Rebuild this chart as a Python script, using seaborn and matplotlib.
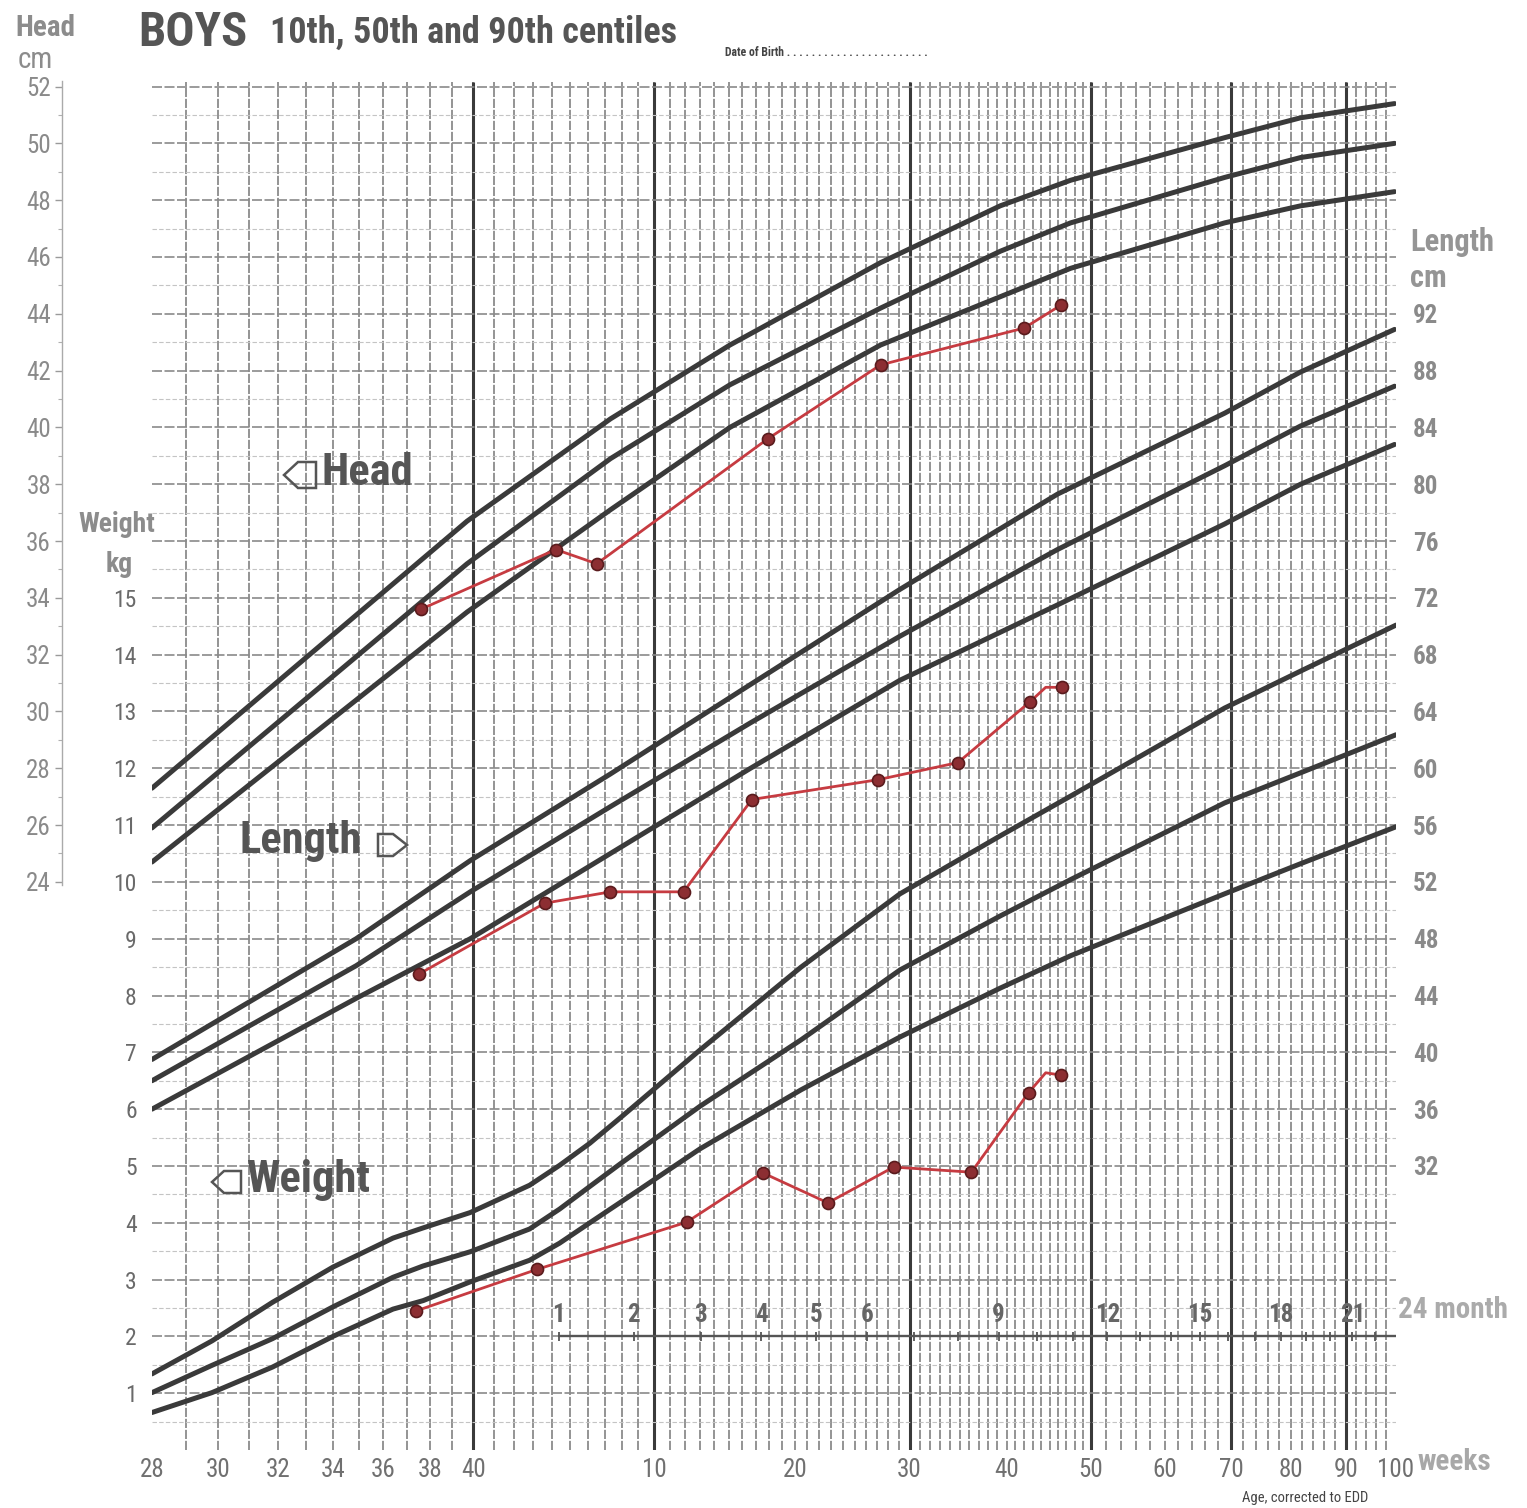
import numpy as np
import pandas as pd
import matplotlib
matplotlib.use("Agg")
import matplotlib.pyplot as plt
from matplotlib.patches import Polygon
import seaborn as sns

# ages are post-conceptual weeks (40 = term, 50 = 10 weeks after term ...)
head_pc = [28, 39.7, 47.3, 55.1, 67.3, 79.3, 87.5, 109.0, 121.7, 139.7]
head_p90 = [27.3, 36.7, 40.3, 42.9, 45.8, 47.8, 48.7, 50.2, 50.9, 51.4]
head_p50 = [25.9, 35.2, 38.9, 41.5, 44.2, 46.2, 47.2, 48.8, 49.5, 50.0]
head_p10 = [24.7, 33.5, 37.1, 40.0, 42.9, 44.6, 45.6, 47.2, 47.8, 48.3]

length_pc = [28, 34.9, 39.85, 47.3, 56.6, 69.1, 85.9, 109.0, 121.7, 139.7]
length_p90 = [39.5, 48.0, 53.5, 59.6, 65.9, 72.6, 79.3, 85.0, 87.9, 90.9]
length_p50 = [38.0, 46.1, 51.3, 57.3, 63.2, 69.3, 75.4, 81.3, 84.1, 86.9]
length_p10 = [36.0, 43.8, 48.0, 54.0, 60.0, 66.2, 71.5, 77.2, 80.0, 82.8]

weight_pc = [28, 29.8, 31.8, 34.0, 36.4, 37.7, 39.85, 42.8, 44.4, 46.1, 47.9,
             53.0, 60.5, 69.1, 79.3, 87.5, 109.0, 121.7, 140]
weight_p90 = [1.34, 1.92, 2.60, 3.22, 3.73, 3.91, 4.18, 4.66, 5.01, 5.40, 5.85,
              7.04, 8.50, 9.79, 10.81, 11.51, 13.06, 13.71, 14.52]
weight_p50 = [1.01, 1.49, 1.96, 2.52, 3.04, 3.24, 3.49, 3.89, 4.24, 4.64, 5.04,
              6.05, 7.22, 8.45, 9.40, 10.04, 11.39, 11.92, 12.59]
weight_p10 = [0.66, 1.01, 1.46, 2.00, 2.48, 2.63, 2.96, 3.34, 3.64, 4.00, 4.36,
              5.30, 6.34, 7.27, 8.13, 8.70, 9.79, 10.32, 10.97]

# the child's measurements (red)
child_head_pc = [37.6, 44.2, 46.5, 57.9, 67.3, 82.0, 86.3]
child_head_cm = [33.6, 35.7, 35.2, 39.6, 42.2, 43.5, 44.3]
child_head_pt = [1, 1, 1, 1, 1, 1, 1]

child_length_pc = [37.5, 43.6, 47.3, 51.9, 56.7, 67.1, 74.8, 82.7, 84.5, 86.5]
child_length_cm = [45.5, 50.5, 51.3, 51.3, 57.8, 59.2, 60.4, 64.7, 65.7, 65.7]
child_length_pt = [1, 1, 1, 1, 1, 1, 1, 1, 0, 1]

child_weight_pc = [37.4, 43.2, 52.1, 57.5, 62.7, 68.5, 76.2, 82.5, 84.5, 86.3]
child_weight_kg = [2.45, 3.18, 4.01, 4.88, 4.35, 4.98, 4.89, 6.29, 6.64, 6.60]
child_weight_pt = [1, 1, 1, 1, 1, 1, 1, 1, 0, 1]

week_ticks = [28, 30, 32, 34, 36, 38, 40, 50, 60, 70, 80, 90, 100, 110, 120, 130, 140]
week_labels = ["28", "30", "32", "34", "36", "38", "40",
               "10", "20", "30", "40", "50", "60", "70", "80", "90", "100"]
month_labels = [1, 2, 3, 4, 5, 6, 9, 12, 15, 18, 21]
head_ticks = list(range(24, 53, 2))
weight_ticks = list(range(1, 16))
length_ticks = list(range(32, 93, 4))


# chart grid is in kg; head and length share it with their own scales
def head_to_grid(h):
    return (np.asarray(h) - 4) / 2


def length_to_grid(l):
    return (np.asarray(l) - 12) / 4


def fwd(x):
    return np.log(np.clip(np.asarray(x, dtype=float) - 10, 1e-3, None))


def inv(y):
    return np.exp(y) + 10


W, H = 1527, 1508


def fx(px):
    return px / W


def fy(py):
    return 1 - py / H


sns.set_theme(style="white")
plt.rcParams["font.family"] = ["Liberation Sans Narrow", "Roboto Condensed", "DejaVu Sans"]

fig = plt.figure(figsize=(W / 100, H / 100), dpi=100)
ax = fig.add_axes([fx(152), fy(1450), 1244 / W, 1368 / H])
ax.set_xscale("function", functions=(fwd, inv))
ax.set_xlim(28, 140)
ax.set_ylim(0, 24.08)
for s in ax.spines.values():
    s.set_visible(False)

# paper grid
wk = list(range(29, 91)) + list(range(92, 140, 2))
ax.vlines(wk, 0, 24.08, color="#777777", lw=1.1, ls=(0, (6, 1.2)), zorder=1)
ax.vlines([40, 50, 70, 90, 110, 130], 0, 24.08, color="#3a3a3a", lw=2.2, zorder=1)
ax.hlines(np.arange(0.5, 24.1, 1), 28, 140, color="#c4c4c4", lw=0.8, ls=(0, (4, 2)), zorder=1)
ax.hlines(np.arange(1, 24.1, 1), 28, 140, color="#8a8a8a", lw=1.2, ls=(0, (6, 1.5)), zorder=1)

frames = []
for measure, pcs, cents, conv in [
    ("head", head_pc, {"90": head_p90, "50": head_p50, "10": head_p10}, head_to_grid),
    ("length", length_pc, {"90": length_p90, "50": length_p50, "10": length_p10}, length_to_grid),
    ("weight", weight_pc, {"90": weight_p90, "50": weight_p50, "10": weight_p10}, lambda v: np.asarray(v)),
]:
    for cent, vals in cents.items():
        frames.append(pd.DataFrame({"pc": pcs, "y": conv(vals), "curve": measure + cent}))
curves = pd.concat(frames, ignore_index=True)

sns.lineplot(data=curves, x="pc", y="y", units="curve", estimator=None, sort=False,
             color="#3a3a3a", linewidth=3.6, ax=ax, zorder=3)

child = pd.concat([
    pd.DataFrame({"pc": child_head_pc, "y": head_to_grid(child_head_cm), "pt": child_head_pt, "m": "head"}),
    pd.DataFrame({"pc": child_length_pc, "y": length_to_grid(child_length_cm), "pt": child_length_pt, "m": "length"}),
    pd.DataFrame({"pc": child_weight_pc, "y": child_weight_kg, "pt": child_weight_pt, "m": "weight"}),
], ignore_index=True)

sns.lineplot(data=child, x="pc", y="y", units="m", estimator=None, sort=False,
             color="#c63b41", linewidth=2.0, ax=ax, zorder=4)
sns.scatterplot(data=child[child["pt"] == 1], x="pc", y="y", color="#8c2e32",
                edgecolor="#5a1b1d", linewidth=1.2, s=75, ax=ax, zorder=5)

# month scale
month_pc = [40 + m * 52.18 / 12 for m in range(1, 25)]
ax.plot([month_pc[0], 140], [2, 2], color="#555555", lw=1.7, zorder=2)
ax.vlines([p for p in month_pc if p <= 140], 1.92, 2.08, color="#555555", lw=1.3, zorder=2)
for m in month_labels:
    ax.text(40 + m * 52.18 / 12, 2.38, str(m), ha="center", va="center",
            fontsize=18, weight="bold", color="#666666", zorder=2)
fig.text(fx(1398), fy(1310), "24 month", fontsize=21, weight="bold", color="#ababab", va="center")

# axes labels
ax.set_xlabel("")
ax.set_ylabel("")
ax.set_xticks(week_ticks)
ax.set_xticklabels(week_labels)
ax.set_yticks(weight_ticks)
ax.set_yticklabels([str(v) for v in weight_ticks])
ax.tick_params(axis="x", length=0, pad=6, labelsize=18, labelcolor="#707070")
ax.tick_params(axis="y", length=0, pad=11, labelsize=17, labelcolor="#6a6a6a")
ax.xaxis.set_minor_locator(matplotlib.ticker.NullLocator())

sec_head = ax.secondary_yaxis(-0.0723, functions=(lambda w: 2 * w + 4, lambda h: (h - 4) / 2))
sec_head.set_yticks(head_ticks)
sec_head.set_yticks(range(25, 52, 2), minor=True)
sec_head.tick_params(axis="y", which="major", length=5, width=1, color="#9a9a9a", pad=3,
                     labelsize=18, labelcolor="#8a8a8a")
sec_head.tick_params(axis="y", which="minor", length=3, width=0.8, color="#b0b0b0")
sec_head.spines["left"].set_color("#aaaaaa")
sec_head.spines["left"].set_linewidth(1.0)
sec_head.spines["left"].set_bounds(23.9, 52.2)

sec_len = ax.secondary_yaxis("right", functions=(lambda w: 4 * w + 12, lambda l: (l - 12) / 4))
sec_len.set_yticks(length_ticks)
sec_len.tick_params(axis="y", length=0, pad=12, labelsize=18, labelcolor="#8a8a8a")
sec_len.spines["right"].set_visible(False)
for t in sec_len.get_yticklabels():
    t.set_fontweight("bold")

# titles and scale names
fig.text(fx(138), fy(33), "BOYS", fontsize=35, weight="bold", color="#555555", va="center")
fig.text(fx(270), fy(33), "10th, 50th and 90th centiles", fontsize=26, weight="bold",
         color="#555555", va="center")
fig.text(fx(725), fy(52), "Date of Birth . . . . . . . . . . . . . . . . . . . . . . .", fontsize=8.5,
         weight="bold", color="#444444", va="center")
fig.text(fx(15), fy(28), "Head", fontsize=21, weight="bold", color="#8c8c8c", va="center")
fig.text(fx(18), fy(60), "cm", fontsize=21, color="#8c8c8c", va="center")
fig.text(fx(78), fy(525), "Weight", fontsize=20, weight="bold", color="#8c8c8c", va="center")
fig.text(fx(106), fy(565), "kg", fontsize=20, weight="bold", color="#8c8c8c", va="center")
fig.text(fx(1410), fy(242), "Length", fontsize=22, weight="bold", color="#959595", va="center")
fig.text(fx(1410), fy(278), "cm", fontsize=22, weight="bold", color="#959595", va="center")
fig.text(fx(1418), fy(1462), "weeks", fontsize=21, weight="bold", color="#a8a8a8", va="center")
fig.text(fx(1305), fy(1498), "Age, corrected to EDD", fontsize=10.5, color="#444444",
         ha="center", va="center")

# measurement names with their pointer boxes
fig.text(fx(321), fy(473), "Head", fontsize=32, weight="bold", color="#555555", va="center")
fig.text(fx(240), fy(841), "Length", fontsize=32, weight="bold", color="#555555", va="center")
fig.text(fx(246), fy(1180), "Weight", fontsize=32, weight="bold", color="#555555", va="center")
for pts in [
    [(284, 475), (298, 462), (316, 462), (316, 488), (298, 488)],
    [(407, 845), (393, 834), (378, 834), (378, 856), (393, 856)],
    [(212, 1182), (224, 1171), (241, 1171), (241, 1193), (224, 1193)],
]:
    fig.add_artist(Polygon([(fx(a), fy(b)) for a, b in pts], closed=True, fill=False,
                           edgecolor="#555555", lw=1.8, transform=fig.transFigure))

fig.savefig("out.png", dpi=100, facecolor="white")
